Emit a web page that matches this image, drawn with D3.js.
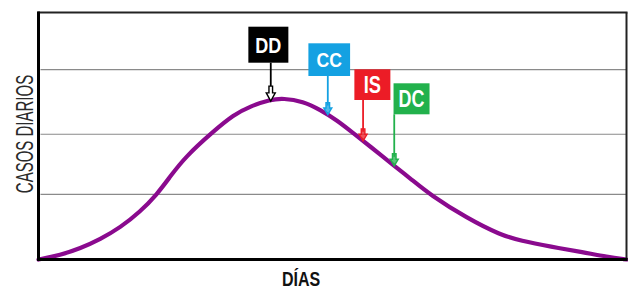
<!DOCTYPE html>
<html><head><meta charset="utf-8">
<script src="https://cdn.jsdelivr.net/npm/d3@7"></script>
<style>body{margin:0;background:#fff}svg{display:block}</style>
</head><body><svg id="c" width="628" height="289"></svg>
<script>
// ---- data ----
const days  = [0, 3.7, 7.1, 10.5, 13.9, 17.3, 20.1, 22.4, 24.9, 29.8, 33.2, 36.0, 39.4, 41.6, 45.0, 47.9, 50.8, 53.5, 56.4, 60.3, 63.2, 66.6, 72.9, 78.6, 82.0, 87.1, 92.7, 96.7, 100];
const cases = [0, 1.8, 4.5, 8.2, 12.9, 19.4, 26.2, 33.6, 41.4, 52.0, 58.6, 62.0, 64.7, 65.3, 64.0, 60.6, 56.3, 51.2, 45.8, 38.3, 32.9, 26.2, 16.7, 9.9, 7.6, 5.2, 2.9, 1.1, 0];
const gridValues = [26.4, 50.7, 76.9];
const markerLabels = ["DD", "CC", "IS", "DC"];
const markerDays = [39.5, 49.2, 55.2, 60.5];
const xTitle = "DÍAS";
const yTitle = "CASOS DIARIOS";

// ---- styles / layout ----
const markerColors = ["#000000", "#14a1e2", "#ec1c26", "#22b14c"];
const boxLayout = [
  {dx: -22.4, w: 40,   top: 26.7, h: 36,   fs: 22, sx: 0.82},
  {dx: -19.4, w: 41.7, top: 43.3, h: 32.7, fs: 20, sx: 0.88},
  {dx: -8.7,  w: 36,   top: 69.3, h: 30.7, fs: 24, sx: 0.76},
  {dx: -0.7,  w: 36,   top: 83.3, h: 31,   fs: 23, sx: 0.78}
];
const pLeft = 38.5, pRight = 626.5, pTop = 12.5, pBottom = 259.5;
const FONT = "'Liberation Sans',Arial,sans-serif";

const svg = d3.select("#c");
const x = d3.scaleLinear().domain([0, 100]).range([pLeft, pRight]);
const y = d3.scaleLinear().domain([0, 100]).range([pBottom, pTop]);

// gridlines
svg.append("g").selectAll("line").data(gridValues).join("line")
  .attr("x1", pLeft + 2).attr("x2", pRight)
  .attr("y1", d => y(d)).attr("y2", d => y(d))
  .attr("stroke", "#8a8a8a").attr("stroke-width", 1.2);

// curve
const pts = days.map((d, i) => [d, cases[i]]);
svg.append("path").datum(pts)
  .attr("d", d3.line().x(d => x(d[0])).y(d => y(d[1])).curve(d3.curveBasis))
  .attr("fill", "none").attr("stroke", "#8a0a8e").attr("stroke-width", 4.2)
  .attr("stroke-linecap", "round");

// frame
svg.append("line").attr("x1", pLeft - 1).attr("x2", pRight + 1).attr("y1", pTop).attr("y2", pTop)
  .attr("stroke", "#222").attr("stroke-width", 2);
svg.append("line").attr("x1", pRight).attr("x2", pRight).attr("y1", pTop).attr("y2", pBottom)
  .attr("stroke", "#222").attr("stroke-width", 2);
svg.append("line").attr("x1", pLeft).attr("x2", pLeft).attr("y1", pTop - 1).attr("y2", pBottom + 1.5)
  .attr("stroke", "#000").attr("stroke-width", 3);
svg.append("line").attr("x1", pLeft - 1.5).attr("x2", pRight + 1).attr("y1", pBottom).attr("y2", pBottom)
  .attr("stroke", "#000").attr("stroke-width", 3);

// markers
const bis = d3.bisector(d => d).left;
function valueAt(d) {
  const i = Math.max(1, Math.min(days.length - 1, bis(days, d)));
  const t = (d - days[i - 1]) / (days[i] - days[i - 1]);
  return cases[i - 1] + t * (cases[i] - cases[i - 1]);
}
markerLabels.forEach((lab, i) => {
  const L = boxLayout[i], col = markerColors[i];
  const ax = x(markerDays[i]);
  const tip = y(valueAt(markerDays[i])) + (i === 0 ? 1.5 : 0);
  const g = svg.append("g");
  const hh = i === 0 ? 15 : 12, hw = i === 0 ? 4.5 : 4;
  g.append("line").attr("x1", ax).attr("x2", ax)
    .attr("y1", L.top + L.h).attr("y2", tip - hh + 3)
    .attr("stroke", col).attr("stroke-width", 1.8);
  const sw = 1.8;
  g.append("path")
    .attr("d", `M${ax},${tip} L${ax - hw},${tip - hh * 0.55} L${ax - sw},${tip - hh * 0.55} L${ax - sw},${tip - hh} L${ax + sw},${tip - hh} L${ax + sw},${tip - hh * 0.55} L${ax + hw},${tip - hh * 0.55} Z`)
    .attr("fill", i === 0 ? "#fff" : col).attr("fill-opacity", i === 0 ? 1 : 0.75)
    .attr("stroke", col).attr("stroke-width", 1.4).attr("stroke-linejoin", "miter");
  g.append("rect").attr("x", ax + L.dx).attr("y", L.top).attr("width", L.w).attr("height", L.h)
    .attr("fill", col);
  g.append("text")
    .attr("transform", `translate(${ax + L.dx + L.w / 2},${L.top + L.h / 2 + L.fs * 0.36}) scale(${L.sx},1)`)
    .attr("text-anchor", "middle")
    .attr("font-family", FONT)
    .attr("font-weight", "bold").attr("font-size", L.fs).attr("fill", "#fff")
    .text(lab);
});

// axis titles
svg.append("text").attr("transform", "translate(301,285.5) scale(0.8,1)").attr("text-anchor", "middle")
  .attr("font-family", FONT)
  .attr("font-weight", "bold").attr("font-size", 20).attr("fill", "#111")
  .text(xTitle);
svg.append("text").attr("transform", "translate(33,134) rotate(-90) scale(0.625,1)").attr("text-anchor", "middle")
  .attr("font-family", FONT)
  .attr("font-size", 24).attr("fill", "#2a2a2a")
  .text(yTitle);
</script></body></html>
